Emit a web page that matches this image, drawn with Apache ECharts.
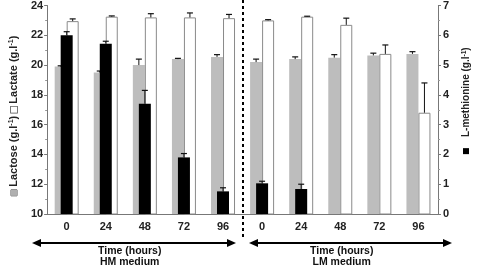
<!DOCTYPE html>
<html>
<head>
<meta charset="utf-8">
<script src="https://cdn.jsdelivr.net/npm/echarts@6/dist/echarts.min.js"></script>
<style>
  html, body { margin: 0; padding: 0; background: #fff; }
  #chart { width: 480px; height: 267px; }
</style>
</head>
<body>
<div id="chart"></div>
<script>
// time points, HM medium then LM medium
const hours = ["0", "24", "48", "72", "96", "0", "24", "48", "72", "96"];
// g/l, left axis
const lactose = [19.9, 19.5, 20.0, 20.4, 20.55, 20.2, 20.4, 20.5, 20.65, 20.75];
const lactoseErr = [19.95, 19.6, 20.4, 20.45, 20.7, 20.4, 20.55, 20.7, 20.8, 20.9];
const lactate = [22.95, 23.25, 23.2, 23.2, 23.15, 23.0, 23.25, 22.7, 20.75, 16.8];
const lactateErr = [23.1, 23.3, 23.45, 23.5, 23.4, 23.05, 23.28, 23.15, 21.35, 18.8];
// g/l, right axis
const methionine = [6.0, 5.72, 3.7, 1.9, 0.76, 1.03, 0.84, null, null, null];
const methionineErr = [6.12, 5.8, 4.15, 2.03, 0.88, 1.1, 1.0, null, null, null];
// axis ranges
const leftTicks = [10, 12, 14, 16, 18, 20, 22, 24];
const rightTicks = [0, 1, 2, 3, 4, 5, 6, 7];
const media = ["HM medium", "LM medium"];

const FONT = "Liberation Sans";
const myChart = echarts.init(document.getElementById("chart"), null, { renderer: "canvas" });

// error bar: line from bar top up to mean+sd, with a small cap
const errRender = (offset) => (params, api) => {
  const i = api.value(0);
  const base = api.coord([i, api.value(1)]);
  const top = api.coord([i, api.value(2)]);
  const cx = base[0] + offset;
  return {
    type: "group",
    children: [
      { type: "line", shape: { x1: cx, y1: base[1], x2: cx, y2: top[1] }, style: { stroke: "#111", lineWidth: 1 } },
      { type: "line", shape: { x1: cx - 3, y1: top[1], x2: cx + 3, y2: top[1] }, style: { stroke: "#111", lineWidth: 1.2 } },
    ],
  };
};
const errData = (vals, errs) =>
  vals.map((v, i) => (v == null ? null : [i, v, errs[i]])).filter((d) => d);

const nameRich = {
  g: { width: 6, height: 6, backgroundColor: "#b0b0b0", borderColor: "#555", borderWidth: 0.5 },
  w: { width: 6, height: 6, backgroundColor: "#fff", borderColor: "#555", borderWidth: 0.8 },
  b: { width: 6, height: 6, backgroundColor: "#000" },
  t: { fontFamily: FONT, fontSize: 11, fontWeight: "bold", color: "#222" },
  sup: { fontFamily: FONT, fontSize: 7, fontWeight: "bold", color: "#222", verticalAlign: "top", padding: [0, 0, 5, 0] },
  r: { fontFamily: FONT, fontSize: 10, fontWeight: "bold", color: "#222" },
  rsup: { fontFamily: FONT, fontSize: 6.5, fontWeight: "bold", color: "#222", verticalAlign: "top", padding: [0, 0, 4, 0] },
};

// double-headed arrow under each half of the axis
const arrow = (x1, x2, y) => ({
  type: "group",
  children: [
    { type: "line", shape: { x1: x1 + 6, y1: y, x2: x2 - 6, y2: y }, style: { stroke: "#000", lineWidth: 2 } },
    { type: "polygon", shape: { points: [[x1, y], [x1 + 9, y - 4], [x1 + 9, y + 4]] }, style: { fill: "#000" } },
    { type: "polygon", shape: { points: [[x2, y], [x2 - 9, y - 4], [x2 - 9, y + 4]] }, style: { fill: "#000" } },
  ],
});
const caption = (x, text) => ({
  type: "text",
  left: x,
  top: 246,
  style: {
    text: "Time (hours)\n" + text,
    font: "bold 10.5px " + FONT,
    fill: "#111",
    lineHeight: 11,
    textAlign: "center",
  },
});

myChart.setOption({
  animation: false,
  grid: { left: 34, right: 28, top: 3, bottom: 53 },
  xAxis: [
    {
      type: "category",
      data: hours,
      axisLine: { lineStyle: { color: "#777" } },
      axisTick: { inside: true, length: 3, lineStyle: { color: "#777" } },
      axisLabel: { fontFamily: FONT, fontSize: 11, fontWeight: "bold", color: "#222", margin: 7 },
    },
    { type: "category", data: hours, show: false },
  ],
  yAxis: [
    {
      type: "value",
      min: leftTicks[0],
      max: leftTicks[leftTicks.length - 1],
      interval: leftTicks[1] - leftTicks[0],
      name: "{g|}{t| Lactose (g.l}{sup|-1}{t|) }{w|}{t| Lactate (g.l}{sup|-1}{t|)}",
      nameLocation: "middle",
      nameRotate: 90,
      nameGap: 25,
      nameTextStyle: { rich: nameRich, padding: [0, 12, 0, 0] },
      axisLine: { show: true, lineStyle: { color: "#777" } },
      axisTick: { show: true, length: 3, lineStyle: { color: "#777" } },
      minorTick: { show: true, splitNumber: 2, length: 2, lineStyle: { color: "#999" } },
      splitLine: { show: false },
      axisLabel: { fontFamily: FONT, fontSize: 11, fontWeight: "bold", color: "#222", margin: 4 },
    },
    {
      type: "value",
      position: "right",
      min: rightTicks[0],
      max: rightTicks[rightTicks.length - 1],
      interval: rightTicks[1] - rightTicks[0],
      name: "{b|}{r|    L-methionine (g.l}{rsup|-1}{r|)}",
      nameLocation: "middle",
      nameRotate: 90,
      nameGap: 22,
      nameTextStyle: { rich: nameRich, padding: [0, 0, 0, 18] },
      axisLine: { show: true, lineStyle: { color: "#777" } },
      axisTick: { show: true, length: 3, lineStyle: { color: "#777" } },
      minorTick: { show: true, splitNumber: 2, length: 2, lineStyle: { color: "#999" } },
      splitLine: { show: false },
      axisLabel: { fontFamily: FONT, fontSize: 11, fontWeight: "bold", color: "#222", margin: 5 },
    },
  ],
  series: [
    {
      name: "Lactose",
      type: "bar",
      barWidth: 12,
      barGap: 0,
      itemStyle: { color: "#bdbdbd" },
      data: lactose,
    },
    {
      name: "Lactate",
      type: "bar",
      barWidth: 12,
      barGap: 0,
      itemStyle: { color: "#fff", borderColor: "#8a8a8a", borderWidth: 1 },
      data: lactate,
    },
    { type: "custom", renderItem: errRender(-6), data: errData(lactose, lactoseErr), z: 3 },
    { type: "custom", renderItem: errRender(6), data: errData(lactate, lactateErr), z: 3 },
    {
      name: "L-methionine",
      type: "bar",
      xAxisIndex: 1,
      yAxisIndex: 1,
      barWidth: 12,
      itemStyle: { color: "#000" },
      data: methionine.map((v) => (v == null ? "-" : v)),
      z: 4,
    },
    {
      type: "custom",
      xAxisIndex: 1,
      yAxisIndex: 1,
      renderItem: errRender(0),
      data: errData(methionine, methionineErr),
      z: 5,
    },
  ],
  graphic: [
    {
      type: "line",
      shape: { x1: 243, y1: 0, x2: 243, y2: 240 },
      style: { stroke: "#000", lineWidth: 2, lineDash: [3, 3] },
      z: 10,
    },
    arrow(32, 236, 243),
    arrow(249, 452, 243),
    caption(98, media[0]),
    caption(310, media[1]),
  ],
});
</script>
</body>
</html>
